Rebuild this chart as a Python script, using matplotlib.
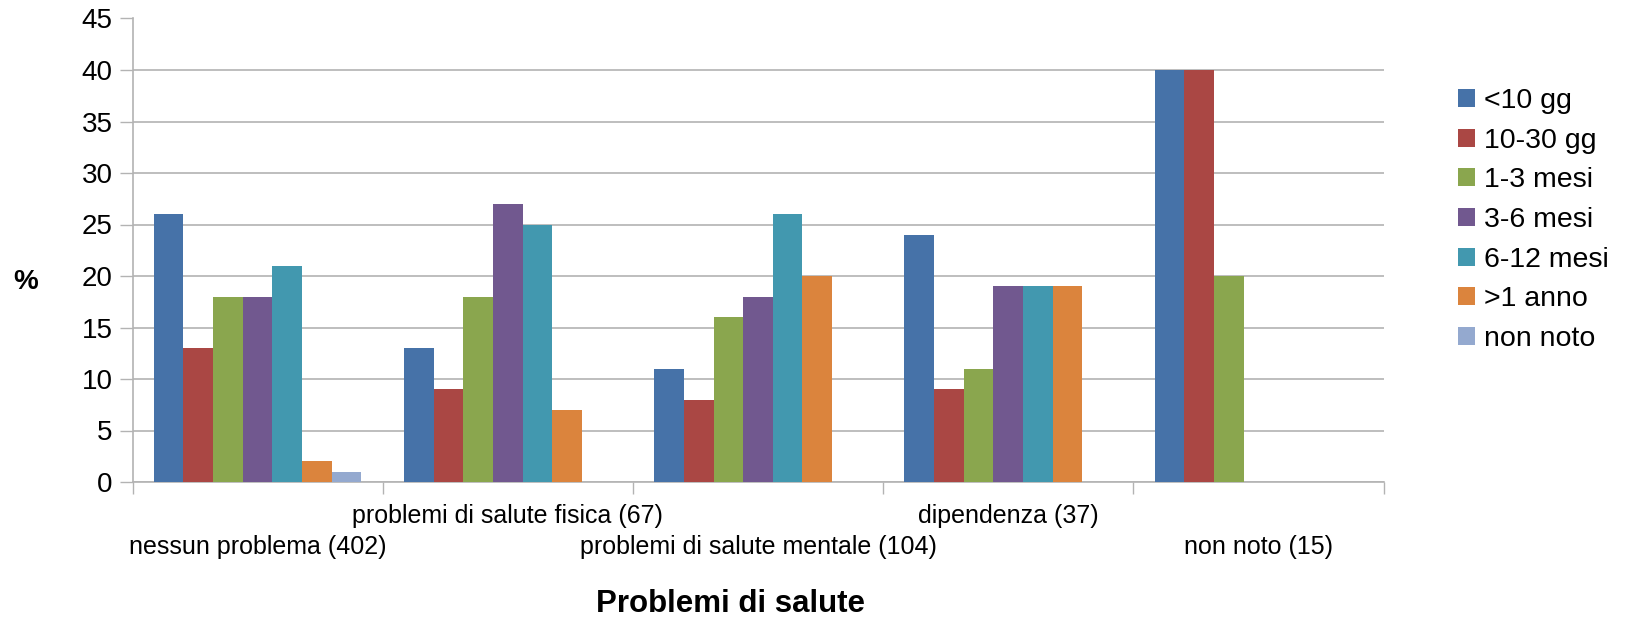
import matplotlib.pyplot as plt
import numpy as np

plt.rcParams['font.family'] = ['Liberation Sans', 'DejaVu Sans']

# Dati: percentuale per durata, raggruppata per problema di salute
categories = ['nessun problema (402)', 'problemi di salute fisica (67)',
              'problemi di salute mentale (104)', 'dipendenza (37)', 'non noto (15)']
series = ['<10 gg', '10-30 gg', '1-3 mesi', '3-6 mesi', '6-12 mesi', '>1 anno', 'non noto']
values = [
    [26, 13, 11, 24, 40],   # <10 gg
    [13, 9, 8, 9, 40],      # 10-30 gg
    [18, 18, 16, 11, 20],   # 1-3 mesi
    [18, 27, 18, 19, 0],    # 3-6 mesi
    [21, 25, 26, 19, 0],    # 6-12 mesi
    [2, 7, 20, 19, 0],      # >1 anno
    [1, 0, 0, 0, 0],        # non noto
]
colors = ['#4672a8', '#aa4744', '#8aa64e', '#71588f', '#4298af', '#db843d', '#94a9cf']

fig = plt.figure(figsize=(16.25, 6.19), dpi=100)
ax = fig.add_axes([132.5 / 1625, 1 - 482 / 619, (1383.5 - 132.5) / 1625, (482 - 18.5) / 619])

x = np.arange(len(categories))
bw = 0.1185
for i, (name, vals) in enumerate(zip(series, values)):
    ax.bar(x + (i - 3) * bw, vals, bw, color=colors[i], label=name, zorder=3)

ax.set_xlim(-0.5, len(categories) - 0.5)
ax.set_ylim(0, 45)
ax.set_yticks(range(0, 46, 5))
ax.yaxis.grid(True, color='#b3b3b3', linewidth=1.2, zorder=0)
ax.tick_params(axis='y', labelsize=20, length=9.4, width=1, color='#b3b3b3', pad=5)
ax.set_xticks(np.arange(len(categories) + 1) - 0.5)
ax.set_xticklabels([])
ax.tick_params(axis='x', length=8.6, width=1, color='#b3b3b3')
for s in ['top', 'right']:
    ax.spines[s].set_visible(False)
for s in ['left', 'bottom']:
    ax.spines[s].set_color('#b3b3b3')
    ax.spines[s].set_linewidth(1.2)

# etichette delle categorie su due righe alternate
for i, lab in enumerate(categories):
    y = -0.073 if i % 2 else -0.140
    ax.text(i, y, lab, transform=ax.get_xaxis_transform(), ha='center', va='center',
            fontsize=18)

fig.text(730.7 / 1625, 1 - 604 / 619, 'Problemi di salute', ha='center', va='center',
         fontsize=22.5, fontweight='bold')
fig.text(26 / 1625, 1 - 282 / 619, '%', ha='center', va='center', fontsize=20, fontweight='bold')

ax.legend(loc='center left', bbox_to_anchor=(1458 / 1625, 1 - 220 / 619),
          bbox_transform=fig.transFigure, frameon=False, fontsize=20.5,
          handlelength=0.6, handleheight=0.6, handletextpad=0.32, labelspacing=0.48,
          borderpad=0, borderaxespad=0)

fig.savefig('out.png', dpi=100)
